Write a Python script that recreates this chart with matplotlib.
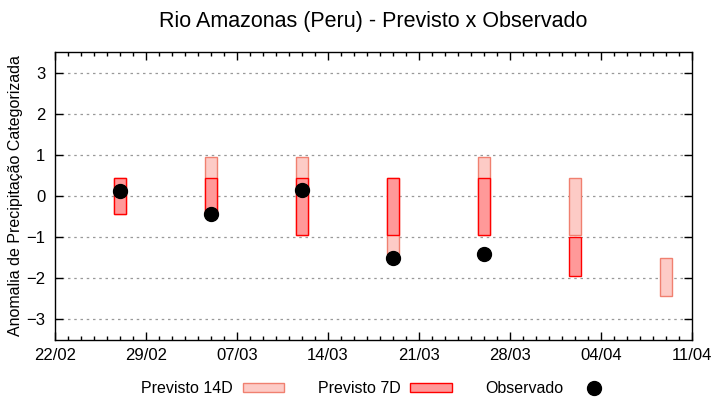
import matplotlib
matplotlib.use('Agg')
import matplotlib.pyplot as plt
import matplotlib.dates as mdates
from matplotlib.patches import Patch
from matplotlib.lines import Line2D
import datetime

plt.rcParams['font.family'] = ['Liberation Sans', 'DejaVu Sans']

# weekly forecast dates
dates = ['2020-02-27', '2020-03-05', '2020-03-12', '2020-03-19',
         '2020-03-26', '2020-04-02', '2020-04-09']
# 14-day forecast ranges (low, high)
p14_low = [-0.44, -0.44, -0.96, -1.41, -0.96, -0.96, -2.44]
p14_high = [0.44, 0.96, 0.96, 0.44, 0.96, 0.44, -1.51]
# 7-day forecast ranges (low, high); None = no forecast
p7_low = [-0.44, -0.44, -0.96, -0.96, -0.96, -1.95, None]
p7_high = [0.44, 0.44, 0.44, 0.44, 0.44, -1.0, None]
# observed anomaly
obs = [0.12, -0.44, 0.15, -1.5, -1.41, None, None]

x = [datetime.datetime.strptime(d, '%Y-%m-%d') for d in dates]
xstart = datetime.datetime(2020, 2, 22)
xend = datetime.datetime(2020, 4, 11)
xticks = [xstart + datetime.timedelta(days=7 * i) for i in range(8)]

fig = plt.figure(figsize=(7.2, 4), dpi=100)
ax = fig.add_axes([0.0764, 0.15, 0.8847, 0.72])

ax.bar(x, [h - l for l, h in zip(p14_low, p14_high)], bottom=p14_low,
       width=0.9, color='#fdcbc6', edgecolor='#f08070', linewidth=1.0, zorder=2)

x7 = [xi for xi, l in zip(x, p7_low) if l is not None]
l7 = [l for l in p7_low if l is not None]
h7 = [h for h in p7_high if h is not None]
ax.bar(x7, [h - l for l, h in zip(l7, h7)], bottom=l7,
       width=0.9, color='#ff9999', edgecolor='#ff0000', linewidth=1.0, zorder=3)

xo = [xi for xi, o in zip(x, obs) if o is not None]
yo = [o for o in obs if o is not None]
ax.plot(xo, yo, 'o', color='black', markersize=10, zorder=4)

ax.set_xlim(xstart, xend)
ax.set_ylim(-3.5, 3.5)
ax.set_yticks([-3, -2, -1, 0, 1, 2, 3])
ax.set_xticks(xticks)
ax.xaxis.set_minor_locator(mdates.DayLocator())
ax.xaxis.set_major_formatter(mdates.DateFormatter('%d/%m'))

ax.tick_params(which='both', direction='in', top=True, right=True,
               labelsize=12, width=1)
ax.tick_params(which='major', length=6, pad=6)
ax.tick_params(axis='y', which='major', pad=7)
ax.tick_params(which='minor', length=3)
ax.grid(axis='y', linestyle=(0, (2, 3)), color='#999999', linewidth=0.9, zorder=0)
for s in ax.spines.values():
    s.set_linewidth(1.0)

ax.set_title('Rio Amazonas (Peru) - Previsto x Observado', fontsize=15.5, pad=18)
ax.set_ylabel('Anomalia de Precipitação Categorizada', fontsize=11.5)
ax.yaxis.set_label_coords(-0.05, 0.5)

handles = [Patch(facecolor='#fdcbc6', edgecolor='#f08070'),
           Patch(facecolor='#ff9999', edgecolor='#ff0000'),
           Line2D([], [], marker='o', color='black', linestyle='none', markersize=10)]
fig.legend(handles, ['Previsto 14D', 'Previsto 7D', 'Observado'],
           loc='center', bbox_to_anchor=(0.525, 0.028), ncol=3, frameon=False,
           markerfirst=False, fontsize=11.5, handlelength=2.6, handleheight=0.45,
           columnspacing=2.1, handletextpad=0.6)

plt.savefig('out.png')
plt.close()
